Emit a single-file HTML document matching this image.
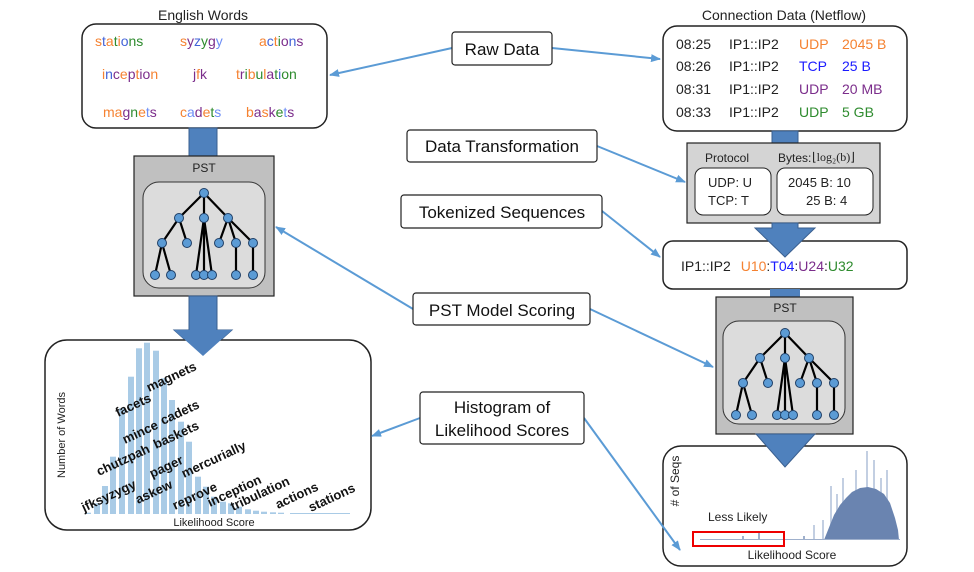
<!DOCTYPE html>
<html><head><meta charset="utf-8"><style>
body{margin:0;background:#fff;}
svg{display:block;font-family:"Liberation Sans","DejaVu Sans",sans-serif;}
</style></head><body>
<svg width="974" height="572" viewBox="0 0 974 572" xmlns="http://www.w3.org/2000/svg">
<defs>
<marker id="ah" markerWidth="10" markerHeight="8" refX="9" refY="4" orient="auto" markerUnits="userSpaceOnUse">
<path d="M0,0 L10,4 L0,8 z" fill="#5b9bd5"/></marker>
<g id="tree">
<g stroke="#000" stroke-width="2.2" fill="none">
<path d="M204,193 L179,218 M204,193 L204,218 M204,193 L228,218"/>
<path d="M179,218 L162,243 M179,218 L187,243 M162,243 L155,275 M162,243 L171,275"/>
<path d="M204,218 L196,275 M204,218 L204,275 M204,218 L212,275"/>
<path d="M228,218 L219,243 M228,218 L236,243 M228,218 L253,243 M236,243 L236,275 M253,243 L253,275"/>
</g>
<g fill="#5b9bd5" stroke="#1f3f66" stroke-width="1">
<circle cx="204" cy="193" r="4.5"/><circle cx="179" cy="218" r="4.5"/><circle cx="204" cy="218" r="4.5"/><circle cx="228" cy="218" r="4.5"/>
<circle cx="162" cy="243" r="4.5"/><circle cx="187" cy="243" r="4.5"/><circle cx="219" cy="243" r="4.5"/><circle cx="236" cy="243" r="4.5"/><circle cx="253" cy="243" r="4.5"/>
<circle cx="155" cy="275" r="4.5"/><circle cx="171" cy="275" r="4.5"/><circle cx="196" cy="275" r="4.5"/><circle cx="204" cy="275" r="4.5"/><circle cx="212" cy="275" r="4.5"/><circle cx="236" cy="275" r="4.5"/><circle cx="253" cy="275" r="4.5"/>
</g></g>
</defs>

<!-- Left column -->
<text x="203" y="20" font-size="14" text-anchor="middle" fill="#222">English Words</text>
<rect x="82" y="24" width="245" height="104" rx="14" fill="#fff" stroke="#222" stroke-width="1.5"/>
<g font-size="14">
<text x="95" y="46"><tspan fill="#f58231">s</tspan><tspan fill="#4363d8">t</tspan><tspan fill="#f58231">a</tspan><tspan fill="#2e8b2e">t</tspan><tspan fill="#f58231">i</tspan><tspan fill="#4363d8">o</tspan><tspan fill="#2e8b2e">n</tspan><tspan fill="#2e8b2e">s</tspan></text>
<text x="180" y="46"><tspan fill="#f58231">s</tspan><tspan fill="#7b2d8b">y</tspan><tspan fill="#4363d8">z</tspan><tspan fill="#2e8b2e">y</tspan><tspan fill="#7b2d8b">g</tspan><tspan fill="#6d8ef5">y</tspan></text>
<text x="259" y="46"><tspan fill="#f58231">a</tspan><tspan fill="#4363d8">c</tspan><tspan fill="#f58231">t</tspan><tspan fill="#2e8b2e">i</tspan><tspan fill="#7b2d8b">o</tspan><tspan fill="#4363d8">n</tspan><tspan fill="#7b2d8b">s</tspan></text>
<text x="102" y="79"><tspan fill="#f58231">i</tspan><tspan fill="#4363d8">n</tspan><tspan fill="#7b2d8b">c</tspan><tspan fill="#f58231">e</tspan><tspan fill="#7b2d8b">p</tspan><tspan fill="#f58231">t</tspan><tspan fill="#7b2d8b">i</tspan><tspan fill="#7b2d8b">o</tspan><tspan fill="#f58231">n</tspan></text>
<text x="193" y="79"><tspan fill="#7b2d8b">j</tspan><tspan fill="#f58231">f</tspan><tspan fill="#7b2d8b">k</tspan></text>
<text x="236" y="79"><tspan fill="#f58231">t</tspan><tspan fill="#7b2d8b">r</tspan><tspan fill="#2e8b2e">i</tspan><tspan fill="#f58231">b</tspan><tspan fill="#2e8b2e">u</tspan><tspan fill="#f58231">l</tspan><tspan fill="#7b2d8b">a</tspan><tspan fill="#2e8b2e">t</tspan><tspan fill="#4363d8">i</tspan><tspan fill="#2e8b2e">o</tspan><tspan fill="#2e8b2e">n</tspan></text>
<text x="103" y="117"><tspan fill="#f58231">m</tspan><tspan fill="#f58231">a</tspan><tspan fill="#7b2d8b">g</tspan><tspan fill="#2e8b2e">n</tspan><tspan fill="#f58231">e</tspan><tspan fill="#6d8ef5">t</tspan><tspan fill="#7b2d8b">s</tspan></text>
<text x="180" y="117"><tspan fill="#f58231">c</tspan><tspan fill="#6d8ef5">a</tspan><tspan fill="#7b2d8b">d</tspan><tspan fill="#f58231">e</tspan><tspan fill="#2e8b2e">t</tspan><tspan fill="#6d8ef5">s</tspan></text>
<text x="246" y="117"><tspan fill="#f58231">b</tspan><tspan fill="#7b2d8b">a</tspan><tspan fill="#f58231">s</tspan><tspan fill="#7b2d8b">k</tspan><tspan fill="#2e8b2e">e</tspan><tspan fill="#6d8ef5">t</tspan><tspan fill="#7b2d8b">s</tspan></text>
</g>

<!-- arrow English -> PST -->
<rect x="189" y="128" width="28" height="30" fill="#4f81bd" stroke="#3a5f8f"/>
<rect x="134" y="156" width="140" height="140" fill="#c0c0c0" stroke="#222" stroke-width="1.2"/>
<text x="204" y="172" font-size="12" text-anchor="middle" fill="#222">PST</text>
<rect x="143" y="182" width="122" height="106" rx="16" fill="#dcdcdc" stroke="#333"/>
<use href="#tree"/>
<!-- arrow PST -> hist -->
<path d="M189,296 L217,296 L217,330 L232,330 L203,356 L174,330 L189,330 Z" fill="#4f81bd" stroke="#3a5f8f"/>

<rect x="45" y="340" width="326" height="190" rx="22" fill="#fff" stroke="#222" stroke-width="1.5"/>
<path d="M174,330 L232,330 L203,356 Z" fill="#4f81bd"/>
<g fill="#a9cbe6">
<rect x="85" y="512.7" width="6" height="1.3"/><rect x="94" y="503.3" width="6" height="10.7"/><rect x="102" y="486" width="6" height="28"/><rect x="110" y="456.7" width="6" height="57.3"/><rect x="119" y="408.3" width="6" height="105.7"/><rect x="128" y="376.7" width="6" height="137.3"/><rect x="136" y="348.3" width="6" height="165.7"/><rect x="144" y="342.7" width="6" height="171.3"/><rect x="153" y="350.7" width="6" height="163.3"/><rect x="161" y="378.3" width="6" height="135.7"/><rect x="169" y="400" width="6" height="114"/><rect x="178" y="421.7" width="6" height="92.3"/><rect x="186" y="441.7" width="6" height="72.3"/><rect x="195" y="476.7" width="6" height="37.3"/><rect x="203" y="486.7" width="6" height="27.3"/><rect x="211" y="496.7" width="6" height="17.3"/><rect x="220" y="501.7" width="6" height="12.3"/><rect x="228" y="503.3" width="6" height="10.7"/><rect x="236" y="506.7" width="6" height="7.3"/><rect x="245" y="509.3" width="6" height="4.7"/><rect x="253" y="510.7" width="6" height="3.3"/><rect x="261" y="511.7" width="6" height="2.3"/><rect x="270" y="512.3" width="6" height="1.7"/><rect x="278" y="512.7" width="6" height="1.3"/><rect x="290" y="513" width="60" height="1"/>
</g>
<g font-size="13" font-weight="bold" fill="#111">
<text transform="translate(149,392) rotate(-25)">magnets</text>
<text transform="translate(118,417) rotate(-25)">facets</text>
<text transform="translate(125,444) rotate(-25)">mince</text>
<text transform="translate(163,425) rotate(-25)">cadets</text>
<text transform="translate(99,476) rotate(-25)">chutzpah</text>
<text transform="translate(156,449) rotate(-25)">baskets</text>
<text transform="translate(84,512) rotate(-25)">jfksyzygy</text>
<text transform="translate(152,478) rotate(-25)">pager</text>
<text transform="translate(184,478) rotate(-25)">mercurially</text>
<text transform="translate(138,504) rotate(-25)">askew</text>
<text transform="translate(175,510) rotate(-25)">reprove</text>
<text transform="translate(210,507) rotate(-25)">inception</text>
<text transform="translate(233,511) rotate(-25)">tribulation</text>
<text transform="translate(278,509) rotate(-25)">actions</text>
<text transform="translate(311,512) rotate(-25)">stations</text>
</g>
<text transform="translate(65,435) rotate(-90)" font-size="11" text-anchor="middle" fill="#222">Number of Words</text>
<text x="214" y="526" font-size="11" text-anchor="middle" fill="#222">Likelihood Score</text>

<!-- Right column -->
<text x="784" y="20" font-size="14" text-anchor="middle" fill="#222">Connection Data (Netflow)</text>
<rect x="663" y="26" width="244" height="105" rx="14" fill="#fff" stroke="#222" stroke-width="1.5"/>
<g font-size="14" fill="#222">
<text x="676" y="49">08:25</text><text x="729" y="49">IP1::IP2</text><text x="799" y="49" fill="#f58231">UDP</text><text x="842" y="49" fill="#f58231">2045 B</text>
<text x="676" y="71">08:26</text><text x="729" y="71">IP1::IP2</text><text x="799" y="71" fill="#1a1aff">TCP</text><text x="842" y="71" fill="#1a1aff">25 B</text>
<text x="676" y="94">08:31</text><text x="729" y="94">IP1::IP2</text><text x="799" y="94" fill="#7b2d8b">UDP</text><text x="842" y="94" fill="#7b2d8b">20 MB</text>
<text x="676" y="117">08:33</text><text x="729" y="117">IP1::IP2</text><text x="799" y="117" fill="#2e8b2e">UDP</text><text x="842" y="117" fill="#2e8b2e">5 GB</text>
</g>
<rect x="772" y="131" width="26" height="13" fill="#4f81bd" stroke="#3a5f8f"/>
<rect x="687" y="143" width="193" height="80" fill="#d4d4d4" stroke="#222" stroke-width="1.2"/>
<text x="705" y="162" font-size="12" fill="#222">Protocol</text>
<text x="778" y="162" font-size="12" fill="#222">Bytes:</text>
<text x="812" y="161" font-size="12" font-family="Liberation Serif,serif" fill="#222">⌊log₂(b)⌋</text>
<rect x="695" y="168" width="76" height="47" rx="8" fill="#fff" stroke="#222"/>
<rect x="777" y="168" width="96" height="47" rx="8" fill="#fff" stroke="#222"/>
<g font-size="13" fill="#222">
<text x="708" y="187">UDP: U</text><text x="708" y="205">TCP: T</text>
<text x="788" y="187">2045 B: 10</text><text x="806" y="205">25 B: 4</text>
</g>
<rect x="663" y="241" width="244" height="48" rx="10" fill="#fff" stroke="#222" stroke-width="1.5"/>
<path d="M772,223 L798,223 L798,228 L815,228 L785,257 L755,228 L772,228 Z" fill="#4f81bd" stroke="#3a5f8f"/>
<text x="681" y="271" font-size="14" fill="#222">IP1::IP2 <tspan dx="6" fill="#f58231">U10</tspan><tspan>:</tspan><tspan fill="#1a1aff">T04</tspan><tspan>:</tspan><tspan fill="#7b2d8b">U24</tspan><tspan>:</tspan><tspan fill="#2e8b2e">U32</tspan></text>
<rect x="770" y="289" width="30" height="9" fill="#4f81bd"/>
<rect x="716" y="297" width="137" height="137" fill="#c0c0c0" stroke="#222" stroke-width="1.2"/>
<text x="785" y="312" font-size="12" text-anchor="middle" fill="#222">PST</text>
<rect x="723" y="321" width="122" height="103" rx="16" fill="#dcdcdc" stroke="#333"/>
<use href="#tree" transform="translate(581,140)"/>
<rect x="663" y="446" width="244" height="120" rx="18" fill="#fff" stroke="#222" stroke-width="1.5"/>
<path d="M756,434 L815,434 L785,467 Z" fill="#4f81bd" stroke="#3a5f8f"/>
<g fill="#c3cfe2">
<rect x="830" y="486" width="2" height="54"/><rect x="842" y="478" width="2" height="62"/><rect x="855" y="470" width="2" height="70"/><rect x="866" y="451" width="2" height="89"/><rect x="873" y="460" width="2" height="80"/><rect x="880" y="478" width="2" height="62"/><rect x="886" y="470" width="2" height="70"/><rect x="813" y="525" width="2" height="15"/><rect x="822" y="520" width="2" height="20"/><rect x="836" y="494" width="2" height="46"/>
</g>
<path d="M824,540 L828,530 L834,515 L840,505 L846,498 L852,492 L860,488 L868,487 L876,489 L884,494 L890,503 L895,518 L898,530 L899,540 Z" fill="#6a84b0"/>
<g fill="#9fb0cc"><rect x="700" y="539" width="200" height="1"/><rect x="742" y="536" width="2" height="4"/><rect x="758" y="533" width="2" height="7"/><rect x="803" y="536" width="2" height="4"/></g>
<rect x="693" y="532" width="91" height="14" fill="none" stroke="#e00" stroke-width="2"/>
<text x="708" y="521" font-size="12" fill="#222">Less Likely</text>
<text x="792" y="559" font-size="12" text-anchor="middle" fill="#222">Likelihood Score</text>
<text transform="translate(679,481) rotate(-90)" font-size="12" text-anchor="middle" fill="#222"># of Seqs</text>

<!-- connectors -->
<g stroke="#5b9bd5" stroke-width="2" fill="none" marker-end="url(#ah)">
<line x1="452" y1="48" x2="330" y2="75"/>
<line x1="552" y1="48" x2="660" y2="59"/>
<line x1="597" y1="146" x2="685" y2="182"/>
<line x1="602" y1="211" x2="660" y2="257"/>
<line x1="413" y1="309" x2="276" y2="227"/>
<line x1="590" y1="309" x2="713" y2="367"/>
<line x1="420" y1="418" x2="372" y2="436"/>
<line x1="584" y1="418" x2="680" y2="550"/>
</g>

<!-- labels -->
<g font-size="17" fill="#111" text-anchor="middle">
<rect x="452" y="32" width="100" height="33" rx="3" fill="#fff" stroke="#222" stroke-width="1.2"/><text x="502" y="55">Raw Data</text>
<rect x="407" y="130" width="190" height="32" rx="3" fill="#fff" stroke="#222" stroke-width="1.2"/><text x="502" y="152">Data Transformation</text>
<rect x="401" y="195" width="201" height="33" rx="3" fill="#fff" stroke="#222" stroke-width="1.2"/><text x="502" y="218">Tokenized Sequences</text>
<rect x="413" y="293" width="177" height="32" rx="3" fill="#fff" stroke="#222" stroke-width="1.2"/><text x="502" y="316">PST Model Scoring</text>
<rect x="420" y="392" width="164" height="52" rx="3" fill="#fff" stroke="#222" stroke-width="1.2"/><text x="502" y="413">Histogram of</text><text x="502" y="436">Likelihood Scores</text>
</g>
</svg>
</body></html>
